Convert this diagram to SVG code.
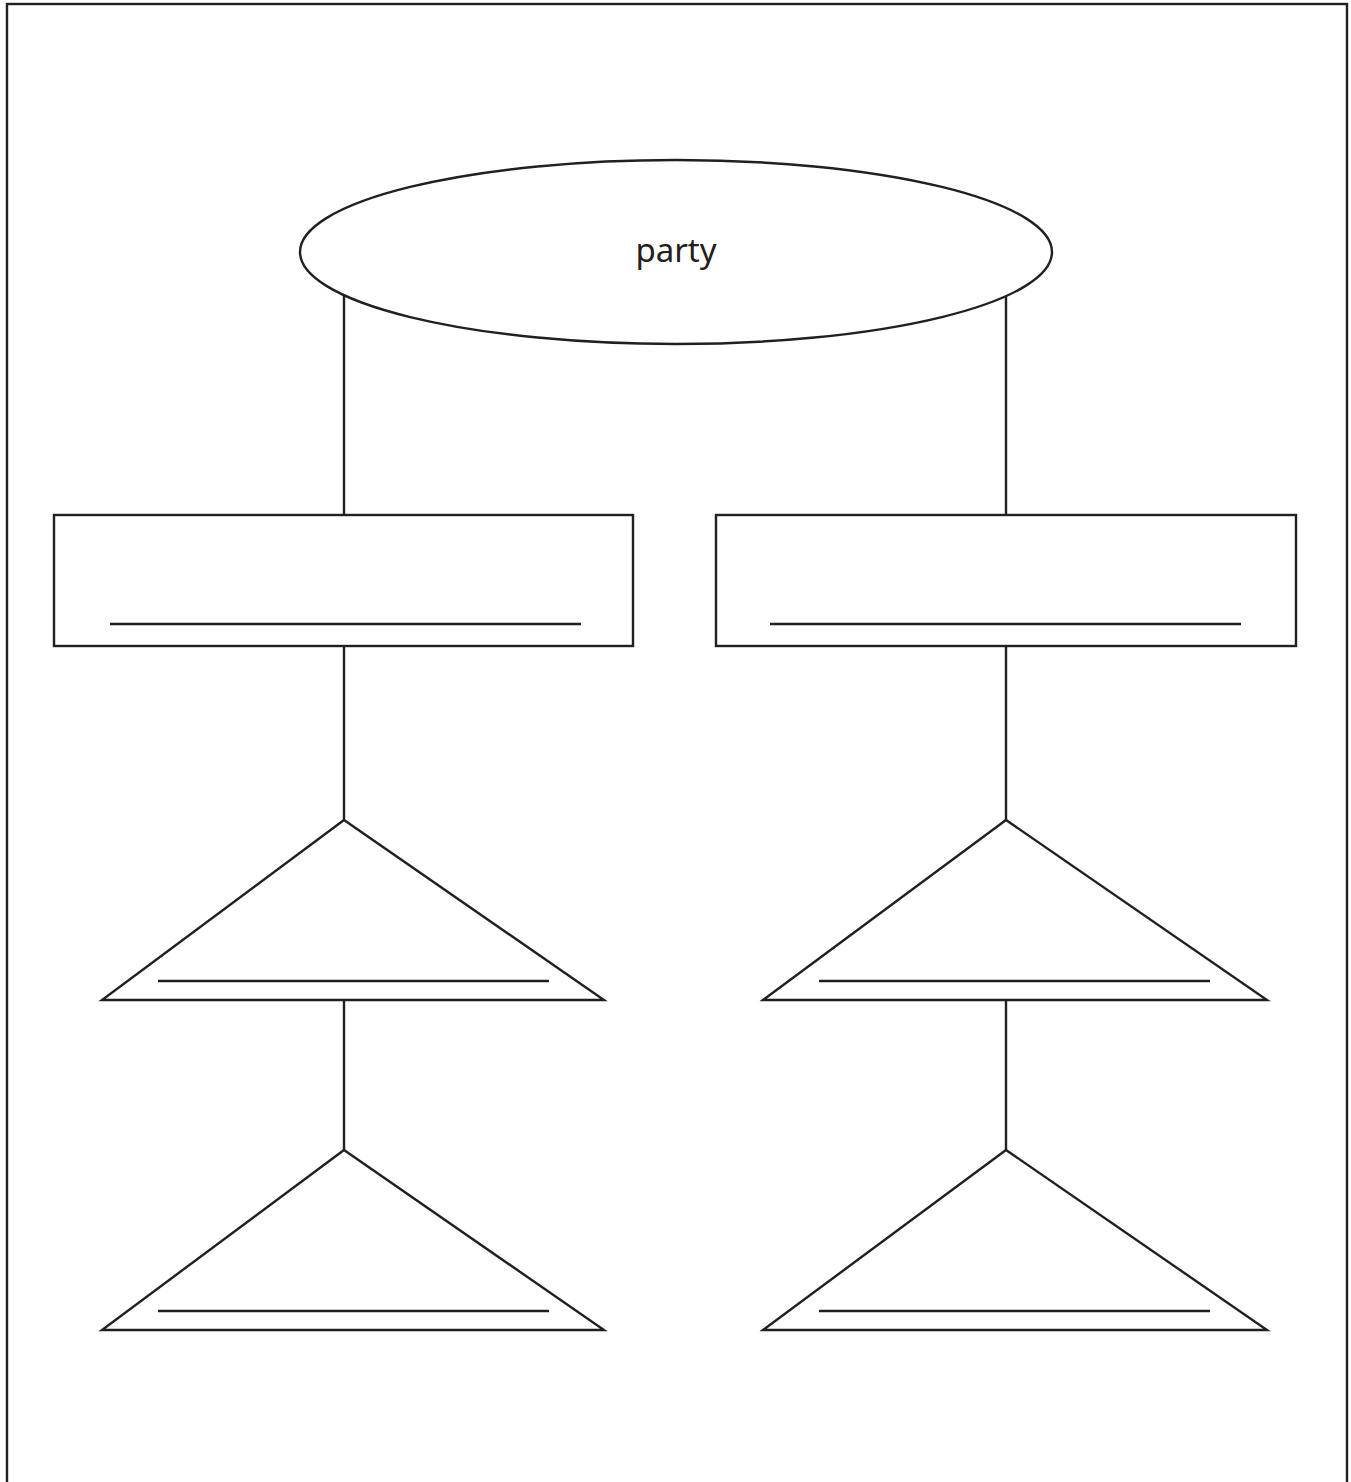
<svg xmlns="http://www.w3.org/2000/svg" width="1351" height="1482" viewBox="0 0 1351 1482">
<style>
.s{fill:none;stroke:#231f20;stroke-width:2.4}
.n{fill:#fff;stroke:#231f20;stroke-width:2.4}
.t{font-family:"Noto Sans","Liberation Sans",sans-serif;font-size:33px;fill:#231f20;text-anchor:middle}
</style>
<rect x="0" y="0" width="1351" height="1482" fill="#fff"/>
<rect x="7" y="4" width="1340" height="1490" class="s" stroke-width="3"/>
<g id="connectors">
<line class="s" x1="344" y1="290" x2="344" y2="514"/>
<line class="s" x1="1006" y1="290" x2="1006" y2="514"/>
<line class="s" x1="344" y1="646" x2="344" y2="820"/>
<line class="s" x1="1006" y1="646" x2="1006" y2="820"/>
<line class="s" x1="344" y1="1000" x2="344" y2="1150"/>
<line class="s" x1="1006" y1="1000" x2="1006" y2="1150"/>
</g>
<g id="party">
<ellipse class="n" cx="676" cy="252" rx="376" ry="92"/>
<text class="t" x="676" y="262">party</text>
</g>
<g id="box-left">
<rect class="n" x="54" y="515" width="579" height="131"/>
<line class="s" x1="110" y1="624" x2="581" y2="624"/>
</g>
<g id="box-right">
<rect class="n" x="716" y="515" width="580" height="131"/>
<line class="s" x1="770" y1="624" x2="1241" y2="624"/>
</g>
<g id="tri-left-1">
<polygon class="n" points="344,820 102,1000 604,1000"/>
<line class="s" x1="158" y1="981" x2="549" y2="981"/>
</g>
<g id="tri-right-1">
<polygon class="n" points="1006,820 763,1000 1267,1000"/>
<line class="s" x1="819" y1="981" x2="1210" y2="981"/>
</g>
<g id="tri-left-2">
<polygon class="n" points="344,1150 102,1330 604,1330"/>
<line class="s" x1="158" y1="1311" x2="549" y2="1311"/>
</g>
<g id="tri-right-2">
<polygon class="n" points="1006,1150 763,1330 1267,1330"/>
<line class="s" x1="819" y1="1311" x2="1210" y2="1311"/>
</g>
</svg>
